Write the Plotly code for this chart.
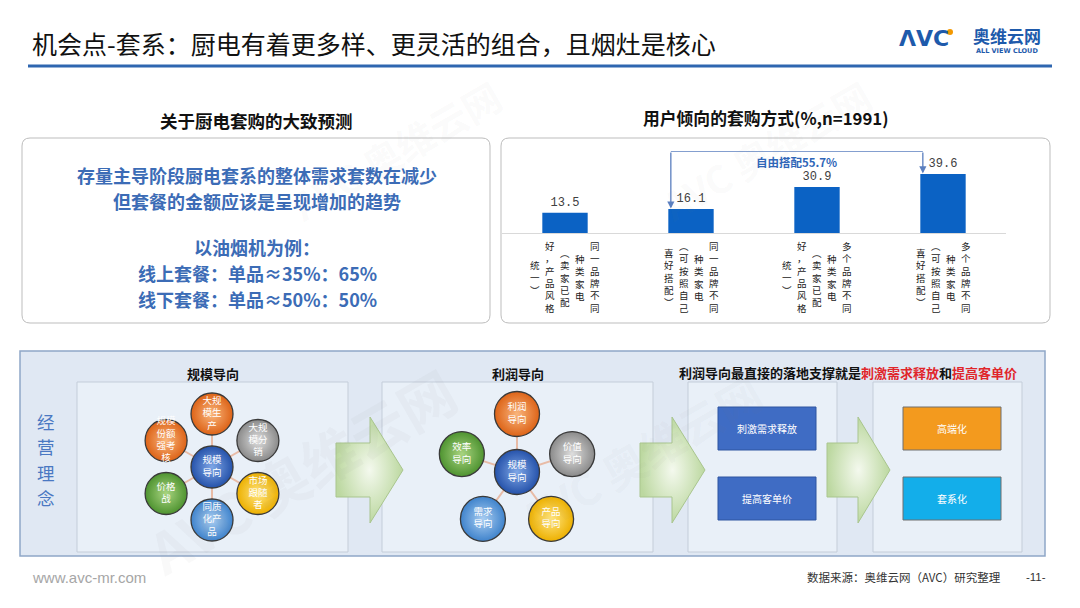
import numpy as np
import plotly.graph_objects as go

# ---------------- data ----------------
categories = [
    "同一品牌不同种类家电（卖家已配好，产品风格统一）",
    "同一品牌不同种类家电（可按照自己喜好搭配）",
    "多个品牌不同种类家电（卖家已配好，产品风格统一）",
    "多个品牌不同种类家电（可按照自己喜好搭配）",
]
category_columns = [
    ["同一品牌不同", "种类家电", "（卖家已配", "好，产品风格", "统一）"],
    ["同一品牌不同", "种类家电", "（可按照自己", "喜好搭配）"],
    ["多个品牌不同", "种类家电", "（卖家已配", "好，产品风格", "统一）"],
    ["多个品牌不同", "种类家电", "（可按照自己", "喜好搭配）"],
]
shares = [13.5, 16.1, 30.9, 39.6]
free_combo_idx = [1, 3]

main_title = "机会点-套系：厨电有着更多样、更灵活的组合，且烟灶是核心"
left_title = "关于厨电套购的大致预测"
right_title = "用户倾向的套购方式(%,n=1991)"
left_lines = ["存量主导阶段厨电套系的整体需求套数在减少",
              "但套餐的金额应该是呈现增加的趋势",
              "以油烟机为例：",
              "线上套餐：单品≈35%：65%",
              "线下套餐：单品≈50%：50%"]

scale_title = "规模导向"
scale_center = "规模<br>导向"
scale_nodes = ["大规<br>模生<br>产", "大规<br>模分<br>销", "市场<br>跟随<br>者",
               "同质<br>化产<br>品", "价格<br>战", "规模<br>份额<br>强考<br>核"]
scale_colors = ["orange", "gray", "yellow", "lightblue", "green", "orange"]

profit_title = "利润导向"
profit_center = "规模<br>导向"
profit_nodes = ["利润<br>导向", "价值<br>导向", "产品<br>导向", "需求<br>导向", "效率<br>导向"]
profit_colors = ["orange", "gray", "yellow", "lightblue", "green"]

support_title = ("利润导向最直接的落地支撑就是<span style='color:#E0262B'>刺激需求释放</span>"
                 "和<span style='color:#E0262B'>提高客单价</span>")
support_items = ["刺激需求释放", "提高客单价"]
result_items = ["高端化", "套系化"]
concept_chars = ["经", "营", "理", "念"]

footer_left = "www.avc-mr.com"
footer_right = "数据来源：奥维云网（AVC）研究整理"
page_no = "-11-"

# ---------------- styles ----------------
FONT = "Noto Sans CJK SC"
BALL = {
    "orange": ("#DD6317", "#F9B57C"),
    "gray": ("#8A8A8A", "#DEDEDE"),
    "yellow": ("#EDB000", "#FFE47E"),
    "lightblue": ("#3F83CC", "#A9CDF1"),
    "green": ("#4E9330", "#A8D480"),
    "blue": ("#2552AA", "#7EA6E6"),
}
W, H = 1080, 608
OFF = 8  # page offset of the plot inside the browser window

fig = go.Figure()
shapes = []
annotations = []


def rrect(x0, y0, x1, y1, r):
    return (f"M{x0+r},{y0} L{x1-r},{y0} Q{x1},{y0} {x1},{y0+r} L{x1},{y1-r} "
            f"Q{x1},{y1} {x1-r},{y1} L{x0+r},{y1} Q{x0},{y1} {x0},{y1-r} "
            f"L{x0},{y0+r} Q{x0},{y0} {x0+r},{y0} Z")


def text(x, y, s, size, color="#000000", bold=False, xanchor="center", family=FONT, **kw):
    annotations.append(dict(
        x=x, y=y, xref=kw.pop("xref", "x"), yref=kw.pop("yref", "y"),
        text=f"<b>{s}</b>" if bold else s, showarrow=False,
        xanchor=xanchor, yanchor=kw.pop("yanchor", "middle"),
        font=dict(family=family, size=size, color=color), **kw))


# ---------- watermarks ----------
for (wx, wy, ws) in [(395, 150, 38), (765, 150, 38), (300, 470, 56), (640, 455, 44)]:
    text(wx, wy, "AVC 奥维云网", ws, "rgba(130,130,130,0.05)", bold=True, textangle=-30)

# ---------- header ----------
text(30, 43, main_title, 25, "#111111", xanchor="left")
shapes.append(dict(type="line", x0=28, x1=1052, y0=66, y1=66, xref="x", yref="y",
                   line=dict(color="#2E66B0", width=3), layer="above"))
text(924, 38, "ΛVC", 22, "#1E5AAB", bold=True, family="DejaVu Sans")
shapes.append(dict(type="circle", x0=947, x1=953, y0=29, y1=35, xref="x", yref="y",
                   fillcolor="#F39800", line=dict(width=0), layer="above"))
text(1007, 35, "奥维云网", 17, "#1E5AAB", bold=True)
text(1007, 51, "ALL VIEW CLOUD", 6.5, "#1E5AAB", bold=True, family="DejaVu Sans")

# ---------- top panels ----------
text(256, 120, left_title, 17.5, "#111111", bold=True)
text(766, 118, right_title, 16.8, "#111111", bold=True)
shapes.append(dict(type="path", path=rrect(22, 138, 490, 323, 8), xref="x", yref="y",
                   fillcolor="white", line=dict(color="#BDBDBD", width=1), layer="below"))
shapes.append(dict(type="path", path=rrect(501, 138, 1050, 323, 8), xref="x", yref="y",
                   fillcolor="white", line=dict(color="#BDBDBD", width=1), layer="below"))

for yy, line in zip([175, 201.2, 247, 273.2, 299.4], left_lines):
    text(257, yy, line, 18, "#3C6CB6", bold=True, borderpad=0)

# ---------- bar chart ----------
xs = list(range(len(categories)))
fig.add_trace(go.Bar(
    x=xs, y=shares, xaxis="x2", yaxis="y2", width=0.36,
    marker=dict(color="#0B62C4", line=dict(width=0)),
    text=shares, texttemplate="%{y:.1f}", textposition="outside",
    textfont=dict(family="Liberation Mono, DejaVu Sans Mono", size=12, color="#404040"),
    cliponaxis=False, customdata=categories,
    hovertemplate="%{customdata}: %{y}<extra></extra>", showlegend=False))

# vertical category labels (columns read right to left)
col_gap, label_mid = 15, 277
vert = {"（": "︵", "）": "︶"}
for i, cols in enumerate(category_columns):
    n = len(cols)
    for k, col in enumerate(cols):
        xoff = ((n - 1) / 2 - k) * col_gap
        annotations.append(dict(
            x=xs[i], y=label_mid, xref="x2", yref="y", xshift=xoff, yanchor="middle",
            text="<br>".join(vert.get(ch, ch) for ch in col), showarrow=False,
            font=dict(family=FONT, size=9.5, color="#222222")))

# bracket for free combination
lvl = 55
bx = [xs[i] - 0.16 for i in free_combo_idx]
bcol = "#5B7FBF"
shapes.append(dict(type="line", xref="x2", yref="y2", x0=bx[0], x1=bx[1], y0=lvl, y1=lvl,
                   line=dict(color=bcol, width=1.3)))
for b, i in zip(bx, free_combo_idx):
    annotations.append(dict(x=b, y=shares[i] + 0.3, ax=b, ay=lvl, xref="x2", yref="y2",
                            axref="x2", ayref="y2", showarrow=True, arrowhead=2,
                            arrowsize=1.1, arrowwidth=1.3, arrowcolor=bcol, text=""))
free_total = sum(shares[i] for i in free_combo_idx)
text(1.84, 47.6, f"自由搭配{free_total:.1f}%", 11.5, "#2F66B8", bold=True, xref="x2", yref="y2")

# ---------- bottom frame ----------
shapes.append(dict(type="rect", x0=20, x1=1045, y0=351, y1=556, xref="x", yref="y",
                   fillcolor="#E0E8F3", line=dict(color="#8EA7C7", width=1.5), layer="below"))
for (x0, x1) in [(77, 348), (382, 653), (688, 837), (873, 1022)]:
    shapes.append(dict(type="rect", x0=x0, x1=x1, y0=382, y1=552, xref="x", yref="y",
                       fillcolor="rgba(240,245,251,0.55)", line=dict(color="#C4CDD9", width=1),
                       layer="below"))
for j, ch in enumerate(concept_chars):
    text(46, 421 + j * 25.5, ch, 17.5, "#4A78C2", borderpad=0)
text(213, 373, scale_title, 13, "#111111", bold=True)
text(518, 373, profit_title, 13, "#111111", bold=True)
text(848, 372, support_title, 13, "#111111", bold=True)

# big green arrows
for (b0, hb, tip) in [(336, 370, 403), (640, 672, 705), (827, 858, 890)]:
    px = [b0, hb, hb, tip, hb, hb, b0, b0]
    py = [443, 443, 417, 470, 523, 497, 497, 443]
    fig.add_trace(go.Scatter(
        x=px, y=py, mode="lines", fill="toself", line=dict(color="#A9C58E", width=1),
        fillgradient=dict(type="radial", colorscale=[[0, "#F4F9EE"], [1, "#BCD8A0"]]),
        hoverinfo="skip", showlegend=False))


def diagram(cx, cy, r, angles, labels, colors, center_label, size):
    nx = [cx + r * np.cos(np.radians(a)) for a in angles]
    ny = [cy - r * np.sin(np.radians(a)) for a in angles]
    lx, ly = [], []
    for a, b in zip(nx, ny):
        lx += [cx, a, None]
        ly += [cy, b, None]
    fig.add_trace(go.Scatter(x=lx, y=ly, mode="lines", line=dict(color="#E8BBA6", width=2),
                             hoverinfo="skip", showlegend=False))
    allc = colors + ["blue"]
    fig.add_trace(go.Scatter(
        x=nx + [cx], y=ny + [cy], mode="markers+text", text=labels + [center_label],
        textposition="middle center",
        textfont=dict(family=FONT, size=9.5, color="white"),
        marker=dict(size=size, color=[BALL[c][0] for c in allc],
                    gradient=dict(type="radial", color=[BALL[c][1] for c in allc]),
                    line=dict(color="#3A3A3A", width=1.3)),
        hoverinfo="skip", showlegend=False))


diagram(212, 467, 53, [90, 30, -30, -90, -150, 150], scale_nodes, scale_colors, scale_center, 42)
diagram(517, 472, 58, [90, 18, -54, -126, 162], profit_nodes, profit_colors, profit_center, 45)

# support / result boxes
for (yy0, yy1), lab in zip([(407, 450), (477, 520)], support_items):
    shapes.append(dict(type="rect", x0=718, x1=816, y0=yy0, y1=yy1, xref="x", yref="y",
                       fillcolor="#3F6CC4", line=dict(color="#2F55A0", width=1), layer="below"))
    text(767, (yy0 + yy1) / 2, lab, 10, "white")
for (yy0, yy1), lab, col in zip([(407, 450), (477, 520)], result_items, ["#F39A1E", "#13AEEA"]):
    shapes.append(dict(type="rect", x0=903, x1=1001, y0=yy0, y1=yy1, xref="x", yref="y",
                       fillcolor=col, line=dict(color="#6E6E6E", width=1), layer="below"))
    text(952, (yy0 + yy1) / 2, lab, 10, "white")

# ---------- footer ----------
text(30, 577, footer_left, 15, "#A6A6A6", xanchor="left", family="Liberation Sans")
text(1003, 577, footer_right, 11.5, "#333333", xanchor="right")
text(1048, 577, page_no, 11.5, "#333333", xanchor="right", family="Liberation Sans")

fig.update_layout(
    width=W, height=H, margin=dict(l=0, r=0, t=0, b=0),
    paper_bgcolor="white", plot_bgcolor="rgba(0,0,0,0)",
    xaxis=dict(range=[OFF, W + OFF], domain=[0, 1], visible=False, fixedrange=True),
    yaxis=dict(range=[H + OFF, OFF], domain=[0, 1], visible=False, fixedrange=True),
    xaxis2=dict(domain=[(502 - OFF) / W, (1006 - OFF) / W], range=[-0.5, 3.5], anchor="y2",
                showticklabels=False, showgrid=False, zeroline=False,
                showline=True, linecolor="#D9D9D9", linewidth=1, ticks="", fixedrange=True),
    yaxis2=dict(domain=[(H - (233 - OFF)) / H, (H - (151 - OFF)) / H], range=[0, 55],
                anchor="x2", visible=False, fixedrange=True),
    shapes=shapes, annotations=annotations, showlegend=False,
)
fig.write_html("out.html")
